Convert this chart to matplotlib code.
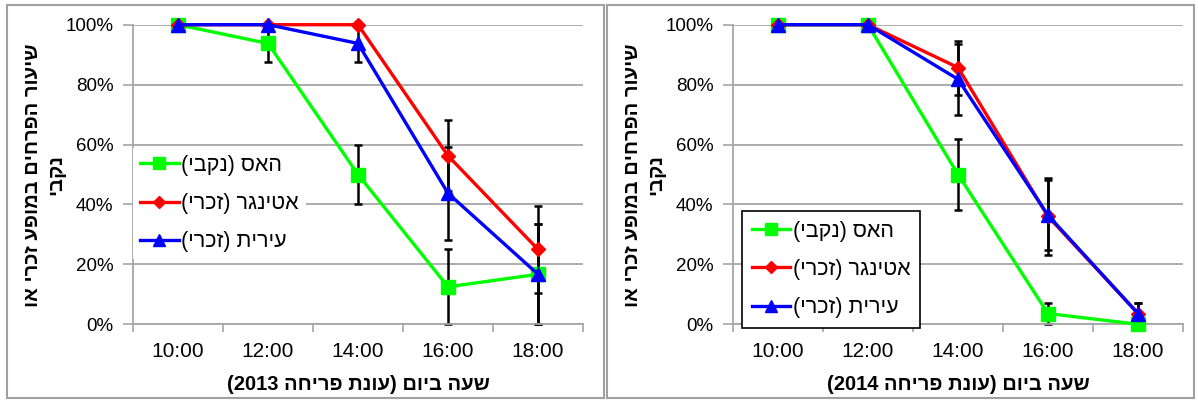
import matplotlib
matplotlib.use('Agg')
import matplotlib.pyplot as plt
from matplotlib.patches import Rectangle
from matplotlib.ticker import FixedLocator, PercentFormatter
import re

# ---------------- data ----------------
hours = ['10:00', '12:00', '14:00', '16:00', '18:00']
series_names = ['האס (נקבי)', 'אטינגר (זכרי)', 'עירית (זכרי)']
ylabel_text = 'שיעור הפרחים במופע זכרי או\nנקבי'
xlabels = ['שעה ביום (עונת פריחה 2013)', 'שעה ביום (עונת פריחה 2014)']

haas_2013 = [100, 93.75, 50, 12.5, 16.7]
haas_2013_err = [0, 6.25, 10, 12.5, 16.7]
ettinger_2013 = [100, 100, 100, 56.25, 25]
ettinger_2013_err = [0, 0, 0, 11.9, 14.4]
irit_2013 = [100, 100, 93.75, 43.75, 16.7]
irit_2013_err = [0, 0, 6.25, 15.5, 16.7]

haas_2014 = [100, 100, 50, 3.6, 0]
haas_2014_err = [0, 0, 12, 3.5, 0]
ettinger_2014 = [100, 100, 85.7, 36.0, 3.6]
ettinger_2014_err = [0, 0, 9, 12.9, 3.5]
irit_2014 = [100, 100, 81.8, 36.4, 3.6]
irit_2014_err = [0, 0, 11.8, 11.6, 3.5]

colors = ['#00FF00', '#FF0000', '#0000FF']
markers = ['s', 'D', '^']
msizes = [9.5, 7.5, 10.5]

FONT = ['Liberation Sans', 'DejaVu Sans']
plt.rcParams['font.family'] = FONT


def visual(s):
    """Simple RTL -> visual conversion for Hebrew strings."""
    out = []
    for line in s.split('\n'):
        r = line[::-1]
        r = re.sub(r'\d+', lambda m: m.group(0)[::-1], r)
        r = r.translate(str.maketrans('()', ')('))
        out.append(r)
    return '\n'.join(out)


W, H = 1198, 400
fig = plt.figure(figsize=(W / 100, H / 100), dpi=100)

# panel borders
for (x0, x1) in [(6.5, 604), (607, 1194)]:
    fig.patches.append(Rectangle((x0 / W, 2 / H), (x1 - x0) / W, (395.5 - 2) / H,
                                 transform=fig.transFigure, fill=False,
                                 edgecolor='#A0A0A0', linewidth=1.5, zorder=0))

grid_c = '#A6A6A6'
panels = [
    (133, [haas_2013, ettinger_2013, irit_2013], [haas_2013_err, ettinger_2013_err, irit_2013_err],
     xlabels[0], dict(frameon=False, anchor=(0.0, 0.588), pad=0.32)),
    (733, [haas_2014, ettinger_2014, irit_2014], [haas_2014_err, ettinger_2014_err, irit_2014_err],
     xlabels[1], dict(frameon=True, anchor=(0.02, 0.378), pad=0.45)),
]

for left_px, ys, errs, xl, leg in panels:
    ax = fig.add_axes([left_px / W, (H - 324.3) / H, 450 / W, 299.6 / H])
    x = list(range(len(hours)))
    handles = []
    for i in range(3):
        y = [v / 100 for v in ys[i]]
        e = [v / 100 for v in errs[i]]
        xi = [xx for xx, ee in zip(x, e) if ee > 0]
        yi = [yy for yy, ee in zip(y, e) if ee > 0]
        ei = [ee for ee in e if ee > 0]
        if xi:
            ax.errorbar(xi, yi, yerr=ei, fmt='none', ecolor='black', elinewidth=1.8,
                        capsize=3, capthick=1.8, zorder=2, clip_on=False)
        h, = ax.plot(x, y, color=colors[i], marker=markers[i], markersize=msizes[i],
                     linewidth=2.4, zorder=3 + i, clip_on=False,
                     label=visual(series_names[i]))
        handles.append(h)

    ax.set_xlim(-0.5, len(hours) - 0.5)
    ax.set_ylim(0, 1.0)
    ax.xaxis.set_major_locator(FixedLocator([i - 0.5 for i in range(len(hours) + 1)]))
    ax.xaxis.set_major_formatter(plt.NullFormatter())
    ax.set_xticks(x, hours, minor=True)
    ax.tick_params(axis='x', which='major', length=6, width=1.2, color=grid_c, direction='out')
    ax.tick_params(axis='x', which='minor', length=0, pad=13, labelsize=15)
    ax.yaxis.set_major_locator(FixedLocator([0, 0.2, 0.4, 0.6, 0.8, 1.0]))
    ax.yaxis.set_major_formatter(PercentFormatter(1.0, decimals=0))
    ax.tick_params(axis='y', length=7, width=1.2, color=grid_c, pad=7, labelsize=13.5)
    ax.grid(axis='y', color=grid_c, linewidth=1.3)
    ax.set_axisbelow(True)
    for s in ['top', 'right']:
        ax.spines[s].set_visible(False)
    for s in ['left', 'bottom']:
        ax.spines[s].set_color(grid_c)
        ax.spines[s].set_linewidth(1.3)

    lg = ax.legend(handles=handles, loc='upper left', bbox_to_anchor=leg['anchor'],
                   fontsize=15.5, frameon=True, fancybox=False, borderaxespad=0,
                   handlelength=1.8, handletextpad=0.12, labelspacing=0.8,
                   borderpad=leg['pad'], markerscale=0.85)
    lg.get_frame().set_facecolor('white')
    lg.get_frame().set_alpha(1)
    if leg['frameon']:
        lg.get_frame().set_edgecolor('black')
        lg.get_frame().set_linewidth(1.2)
    else:
        lg.get_frame().set_edgecolor('none')
    lg.set_zorder(10)

    # x label
    fig.text((left_px + 225) / W, (H - 384) / H, visual(xl), ha='center', va='center',
             fontsize=14.5, fontweight='bold')
    # y label
    fig.text((left_px - 89) / W, (H - 175) / H, visual(ylabel_text), rotation=90,
             ha='center', va='center', fontsize=14.5, fontweight='bold',
             multialignment='center', linespacing=1.3)

fig.savefig('out.png', dpi=100)
